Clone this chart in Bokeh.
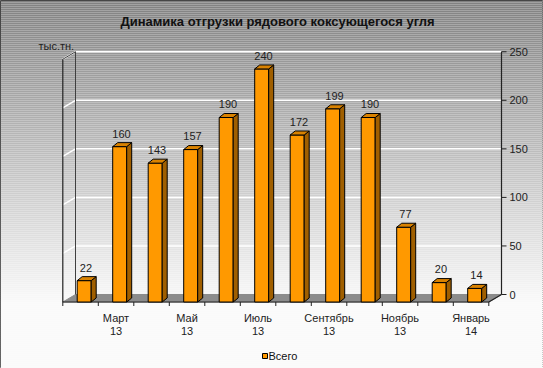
from bokeh.plotting import figure
from bokeh.models import Range1d
from bokeh.core.properties import value
from bokeh.embed import file_html
from bokeh.resources import INLINE

# ---- data ----
title = "Динамика отгрузки рядового коксующегося угля"
unit_label = "тыс.тн."
values = [22, 160, 143, 157, 190, 240, 172, 199, 190, 77, 20, 14]
cat_label_idx = [1, 3, 5, 7, 9, 11]
cat_months = ["Март", "Май", "Июль", "Сентябрь", "Ноябрь", "Январь"]
cat_years = ["13", "13", "13", "13", "13", "14"]
y_ticks = [0, 50, 100, 150, 200, 250]
series_name = "Всего"

FONT = value("Liberation Sans")

# reference-pixel -> data helpers (layout only)
PX_CAT = 35.5
PX_VAL = 0.971
def xd(X):
    return (X - 80.0) / PX_CAT
def yd(Y):
    return (301.5 - Y) / PX_VAL

OX, OY = 0, 0
W, H = 543, 368
p = figure(width=W, height=H, output_backend="svg", toolbar_location=None,
           x_range=Range1d(xd(OX), xd(OX + W)), y_range=Range1d(yd(OY + H), yd(OY)),
           min_border=0, x_axis_type=None, y_axis_type=None)
p.outline_line_color = "#333333"
p.outline_line_width = 1
p.grid.visible = False
p.background_fill_color = None
p.border_fill_color = None

# ---- background gradient ----
bt, bb, bc = [], [], []
step = 2
for Y in range(OY, OY + H, step):
    c = int(min(250, 129 + 0.4 * (Y + step / 2)))
    bt.append(yd(Y))
    bb.append(yd(Y + step))
    bc.append("#%02x%02x%02x" % (c, c, c))
p.quad(left=xd(OX), right=xd(OX + W), top=bt, bottom=bb, fill_color=bc, line_color=None)

# ---- 3D geometry ----
n = len(values)
DX = xd(75) - xd(62.3)          # wall depth (x)
DY = yd(294) - yd(301.5)        # wall depth (y)
x0 = xd(62.3)
x1 = x0 + n                      # right front corner
vmax = y_ticks[-1]

# floor
p.patch([x0, x1, x1 + DX, x0 + DX], [0, 0, DY, DY], fill_color="#8c8c8c",
        line_color="#8c8c8c", line_width=1)

# back wall gridlines & left wall gridlines
for t in y_ticks[1:]:
    p.line([x0 + DX, x1 + DX], [t + DY, t + DY], line_color="white", line_width=1.5)
    p.line([x0, x0 + DX], [t, t + DY], line_color="white", line_width=1.5)

# left wall edges
p.line([x0 + DX, x0 + DX], [DY, vmax + DY], line_color="#404040", line_width=1)
p.line([x0, x0], [0, vmax], line_color="#222222", line_width=1.2)
p.line([x0, x0 + DX], [vmax, vmax + DY], line_color="#404040", line_width=1)

# right value axis (on back wall)
p.line([x1 + DX, x1 + DX], [DY, vmax + DY], line_color="#222222", line_width=1.2)
tick_len = 5 / PX_CAT
p.segment(x0=[x1 + DX] * len(y_ticks), y0=[t + DY for t in y_ticks],
          x1=[x1 + DX + tick_len] * len(y_ticks), y1=[t + DY for t in y_ticks],
          line_color="#222222", line_width=1)
p.text(x=[xd(509)] * len(y_ticks), y=[t + DY for t in y_ticks],
       text=[str(t) for t in y_ticks], text_font=FONT, text_font_size="11px",
       text_color="#222222", text_align="left", text_baseline="middle")

# floor front edge + right slant (category axis)
p.line([x0, x1, x1 + DX], [0, 0, DY], line_color="#222222", line_width=1.2)
cat_ticks = [x0 + k for k in range(n + 1)]
p.segment(x0=cat_ticks, y0=[0] * len(cat_ticks), x1=cat_ticks,
          y1=[yd(305.5)] * len(cat_ticks), line_color="#222222", line_width=1)

# ---- bars ----
off = xd(83.7) - xd(80)
hw = 7 / PX_CAT
bdx = 5 / PX_CAT
bdy = 4 / PX_VAL
cx = [i + off for i in range(n)]
p.quad(left=[c - hw for c in cx], right=[c + hw for c in cx], bottom=0, top=values,
       fill_color="#ff9900", line_color="black", line_width=1)
side_xs, side_ys, top_xs, top_ys = [], [], [], []
for c, v in zip(cx, values):
    l, r = c - hw, c + hw
    side_xs.append([r, r + bdx, r + bdx, r])
    side_ys.append([0, bdy, v + bdy, v])
    top_xs.append([l, r, r + bdx, l + bdx])
    top_ys.append([v, v, v + bdy, v + bdy])
p.patches(side_xs, side_ys, fill_color="#a05f00", line_color="black", line_width=1)
p.patches(top_xs, top_ys, fill_color="#d98200", line_color="black", line_width=1)

# value labels
p.text(x=[c + 0.05 for c in cx], y=[v + 13.5 for v in values], text=[str(v) for v in values],
       text_font=FONT, text_font_size="11px", text_color="#222222",
       text_align="center", text_baseline="middle")

# category labels
p.text(x=cat_label_idx, y=[yd(317.5)] * len(cat_months), text=cat_months,
       text_font=FONT, text_font_size="11px", text_color="#222222",
       text_align="center", text_baseline="middle")
p.text(x=cat_label_idx, y=[yd(330)] * len(cat_years), text=cat_years,
       text_font=FONT, text_font_size="11px", text_color="#222222",
       text_align="center", text_baseline="middle")

# title and unit label
p.text(x=[xd(277)], y=[yd(20.8)], text=[title], text_font=FONT, text_font_size="13px",
       text_font_style="bold", text_color="#111111", text_align="center",
       text_baseline="middle")
p.text(x=[xd(38)], y=[yd(45)], text=[unit_label], text_font=FONT, text_font_size="11px",
       text_color="#222222", text_align="left", text_baseline="middle")

# legend
p.quad(left=[xd(262)], right=[xd(267)], bottom=[yd(358)], top=[yd(353)],
       fill_color="#ff9900", line_color="black", line_width=1)
p.text(x=[xd(268)], y=[yd(355.6)], text=[series_name], text_font=FONT,
       text_font_size="11px", text_color="#111111", text_align="left",
       text_baseline="middle")

open("out.html", "w").write(file_html(p, INLINE))
